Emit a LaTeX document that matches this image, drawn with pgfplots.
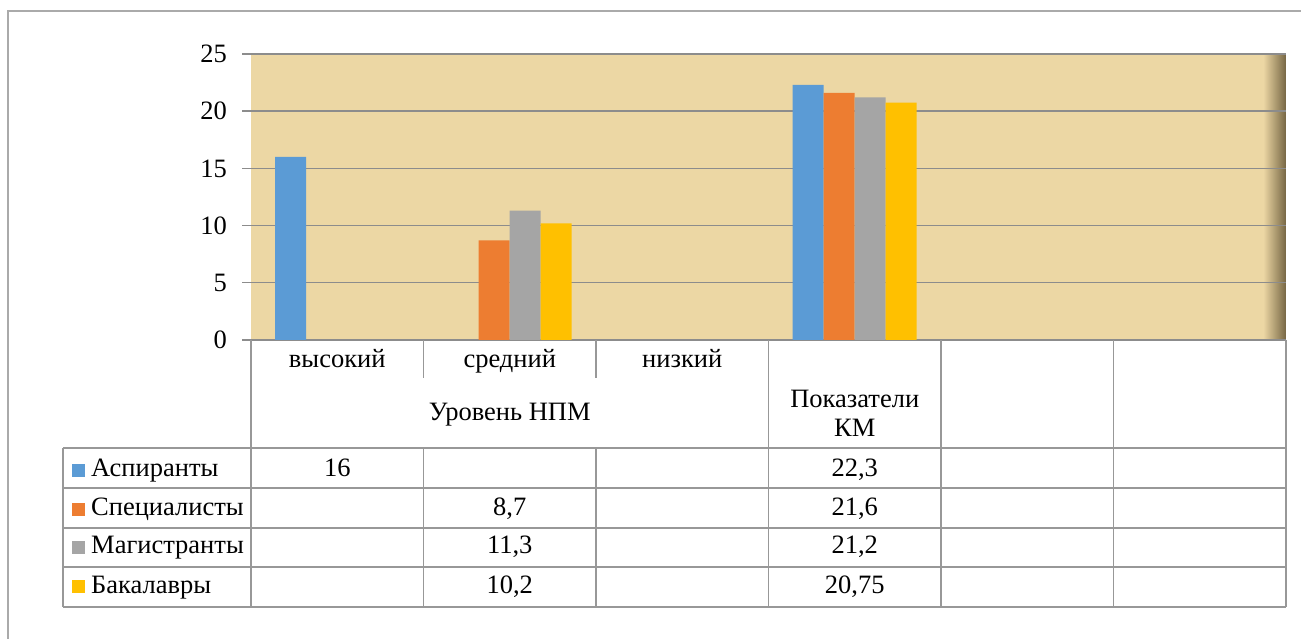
\documentclass[border=0pt]{standalone}
\usepackage{fontspec}
\setmainfont{Liberation Serif}
\usepackage{pgfplots}
\pgfplotsset{compat=1.18}
\definecolor{parch}{RGB}{236,215,164}
\definecolor{parchdark}{RGB}{118,102,68}
\definecolor{gridc}{RGB}{140,140,140}
\definecolor{tabc}{RGB}{152,152,152}
\definecolor{frame}{RGB}{170,170,170}
\definecolor{cA}{RGB}{91,155,213}
\definecolor{cS}{RGB}{237,125,49}
\definecolor{cM}{RGB}{165,165,165}
\definecolor{cB}{RGB}{255,192,0}
\pgfdeclarehorizontalshading{parchshade}{100bp}{color(0bp)=(parch); color(73.9bp)=(parch); color(75bp)=(parchdark); color(100bp)=(parchdark)}
\begin{document}
\fontsize{26.5}{31}\selectfont
\begin{tikzpicture}[x=1pt,y=1pt]
\useasboundingbox (0,0) rectangle (1301,639);
% outer frame (partially cropped)
\draw[frame, line width=1.5pt] (8,0) -- (8,628) -- (1301,628);
\begin{axis}[
  at={(251pt,299pt)}, anchor=south west,
  scale only axis, width=1035pt, height=286pt,
  axis background/.style={shading=parchshade},
  ybar=0pt, bar width=31pt,
  xmin=-0.5, xmax=5.5, ymin=0, ymax=25,
  ytick={0,5,...,25},
  xtick=\empty,
  ymajorgrids, grid style={gridc, line width=1.4pt},
  axis line style={draw=none},
  ytick pos=left, tick align=outside, major tick length=9pt,
  tick style={gridc, line width=1.4pt},
  /pgf/number format/assume math mode=true,
  yticklabel style={font=\fontsize{26.5}{31}\selectfont, black, xshift=-6pt},
  clip=false,
]
\addplot[fill=cA, draw=none] coordinates {(0,16) (3,22.3)};
\addplot[fill=cS, draw=none] coordinates {(1,8.7) (3,21.6)};
\addplot[fill=cM, draw=none] coordinates {(1,11.3) (3,21.2)};
\addplot[fill=cB, draw=none] coordinates {(1,10.2) (3,20.75)};
\end{axis}
% data table lines
\begin{scope}[tabc, line width=1.8pt]
\draw (251,299) -- (251,32);
\draw (423.5,299) -- (423.5,261);
\draw (596,299) -- (596,261);
\draw (423.5,191) -- (423.5,32);
\draw (596,191) -- (596,32);
\draw (768.5,299) -- (768.5,32);
\draw (941,299) -- (941,32);
\draw (1113.5,299) -- (1113.5,32);
\draw (1286,299) -- (1286,32);
\draw (63,191) -- (63,32);
\foreach \yy in {191,151,111,72,32} {\draw (63,\yy) -- (1286,\yy);}
\end{scope}
\begin{scope}[every node/.style={anchor=base, inner sep=0}]
% header text
\node at (337.25,271) {высокий};
\node at (509.75,271) {средний};
\node at (682.25,271) {низкий};
\node at (509.75,218) {Уровень НПМ};
\node at (854.75,231) {Показатели};
\node at (854.75,202) {КМ};
% legend text
\node[anchor=base west] at (91,162.3) {Аспиранты};
\node[anchor=base west] at (91,123) {Специалисты};
\node[anchor=base west] at (91,85) {Магистранты};
\node[anchor=base west] at (91,45.7) {Бакалавры};
% values
\node at (337.25,162.3) {16};
\node at (854.75,162.3) {22,3};
\node at (509.75,123) {8,7};
\node at (854.75,123) {21,6};
\node at (509.75,85) {11,3};
\node at (854.75,85) {21,2};
\node at (509.75,45.7) {10,2};
\node at (854.75,45.7) {20,75};
\end{scope}
% legend keys
\fill[cA] (72,162) rectangle (85,175);
\fill[cS] (72,123) rectangle (85,136);
\fill[cM] (72,85) rectangle (85,98);
\fill[cB] (72,46) rectangle (85,59);
\end{tikzpicture}
\end{document}
